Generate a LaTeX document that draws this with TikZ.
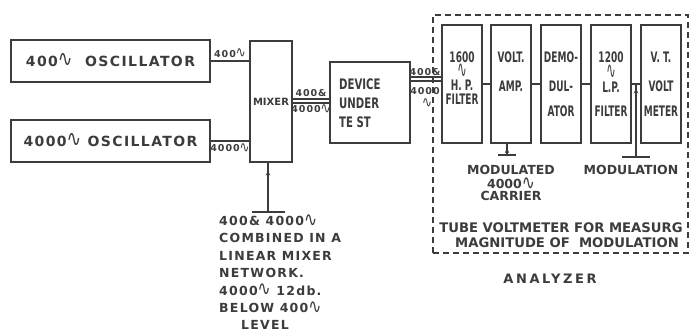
\documentclass[tikz,border=0pt]{standalone}
\usepackage{fontspec}
\usepackage{graphicx}
\setmainfont{DejaVu Sans}
\newfontfamily\cnd{DejaVu Sans}[FakeStretch=0.7]
\newfontfamily\cnn{DejaVu Sans}[FakeStretch=0.62]
\newfontfamily\wde{DejaVu Sans}[LetterSpace=10]
\newfontfamily\wder{DejaVu Sans}[LetterSpace=20]
\usetikzlibrary{calc,arrows.meta}
\definecolor{inkc}{HTML}{3C3C3C}
\newcommand\cyc{{\mdseries\raisebox{-0.05em}[0.6em][0pt]{\scalebox{1.25}[1.6]{∿}}}}
\begin{document}
\begin{tikzpicture}[x=1pt,y=-1pt,
  ink/.style={draw=inkc,line width=1.2pt},
  blk/.style={ink,rectangle,inner sep=0pt},
  txt/.style={text=inkc,inner sep=0pt},
  lbl/.style={txt,font=\wde\bfseries\fontsize{9.5}{10}\selectfont},
  boxl/.style={txt,anchor=base,font=\cnn\bfseries\fontsize{14.5}{14}\selectfont},
  modt/.style={txt,anchor=base,font=\bfseries\fontsize{12.5}{12}\selectfont},
  bigt/.style={txt,font=\wde\bfseries\fontsize{14}{15}\selectfont},
  tip/.style={ink,-{Stealth[length=5pt,width=4.5pt]}},
]
\fill[white] (0,0) rectangle (691,336);
\useasboundingbox (0,0) rectangle (691,336);

% oscillators and mixer
\node[blk,minimum width=199pt,minimum height=42pt,bigt] (osc1) at (110.5,61) {400\cyc\ \ OSCILLATOR};
\node[blk,minimum width=199pt,minimum height=42pt,bigt] (osc2) at (110.5,141) {4000\cyc\ OSCILLATOR};
\node[blk,minimum width=42pt,minimum height=121pt,txt,font=\bfseries\fontsize{10}{12}\selectfont] (mixer) at (271,101.5) {MIXER};
\node[blk,minimum width=80pt,minimum height=81pt] (dut) at (370,102.5) {};
\node[txt,align=left,anchor=west,font=\cnd\bfseries\fontsize{14.5}{19}\selectfont] (dutt) at (339,103) {DEVICE\\UNDER\\TE ST};

\draw[ink] (osc1.east) -- (osc1.east -| mixer.west) node[lbl,midway,above=3pt] (l1) {400\cyc};
\draw[ink] (osc2.east) -- (osc2.east -| mixer.west) node[lbl,midway,below=3pt] (l2) {4000\cyc};

\coordinate (m1) at ([yshift=2.5pt]mixer.east);
\coordinate (m2) at ([yshift=-1.5pt]mixer.east);
\draw[ink] (m1) -- (m1 -| dut.west) node[lbl,midway,above=2pt] (l3) {400\&};
\draw[ink] (m2) -- (m2 -| dut.west) node[lbl,midway,below=2pt] (l4) {4000\cyc};

% mixer input
\coordinate (mxb) at (268,212);
\coordinate (mxl) at (252,212);
\coordinate (mxr) at (285,212);
\draw[ink] (mxl) -- (mxr);
\draw[ink] (mxb) -- (mxb |- mixer.south);
\draw[tip] (mxb) -- ($(mxb)!0.84!(mxb |- mixer.south)$);
\node[txt,align=left,anchor=north west,font=\wde\bfseries\fontsize{12.5}{17.4}\selectfont] (note) at (219,216)
 {400\& 4000\cyc\\COMBINED IN A\\LINEAR MIXER\\NETWORK.\\4000\cyc\ 12db.\\BELOW 400\cyc\\\hspace*{22pt}LEVEL};

% analyzer
\node[draw=inkc,line width=1.2pt,dash pattern=on 6pt off 4pt,minimum width=255pt,minimum height=238pt,inner sep=0pt] (an) at (560.5,134) {};
\node[blk,minimum width=40pt,minimum height=118pt] (hp) at (462,84) {};
\node[blk,minimum width=40pt,minimum height=118pt] (amp) at (511,84) {};
\node[blk,minimum width=40pt,minimum height=118pt] (dem) at (561,84) {};
\node[blk,minimum width=40pt,minimum height=118pt] (lp) at (611,84) {};
\node[blk,minimum width=40pt,minimum height=118pt] (vt) at (661,84) {};
\draw[ink] (hp) -- (amp);
\draw[ink] (amp) -- (dem);
\draw[ink] (dem) -- (lp);
\draw[ink] (lp) -- (vt);

\node[boxl] (hp1) at (462,63) {1600};
\node[boxl] (hp2) at (462,77) {\cyc};
\node[boxl] (hp3) at (462,91) {H. P.};
\node[boxl] (hp4) at (462,105) {FILTER};
\node[boxl] (am1) at (511,63) {VOLT.};
\node[boxl] (am2) at (511,92) {AMP.};
\node[boxl] (de1) at (561,63) {DEMO-};
\node[boxl] (de2) at (561,92) {DUL-};
\node[boxl] (de3) at (561,117) {ATOR};
\node[boxl] (lp1) at (611,63) {1200};
\node[boxl] (lp2) at (611,78) {\cyc};
\node[boxl] (lp3) at (611,93) {L.P.};
\node[boxl] (lp4) at (611,117) {FILTER};
\node[boxl] (vt1) at (661,63) {V. T.};
\node[boxl] (vt2) at (661,92) {VOLT};
\node[boxl] (vt3) at (661,117) {METER};

% DUT to analyzer
\coordinate (d1) at (dut.east |- 0,77);
\coordinate (d2) at (dut.east |- 0,81);
\draw[ink] (d1) -- (d1 -| hp.west);
\draw[ink] (d2) -- (d2 -| hp.west);
\node[lbl] (l5) at (425,72) {400\&};
\node[lbl] (l6) at (425,91) {4000};
\node[lbl] (l7) at (427,104) {\cyc};

% carrier tap
\coordinate (cb) at (507,155);
\coordinate (cbl) at (498,155);
\coordinate (cbr) at (516,155);
\draw[ink] (cbl) -- (cbr);
\draw[ink] (cb) -- (cb |- amp.south);
\draw[tip] (cb) -- ($(cb)!0.6!(cb |- amp.south)$);
\node[modt] (ca1) at (511,175) {MODULATED};
\node[modt] (ca2) at (511,189) {4000\cyc};
\node[modt] (ca3) at (511,201) {CARRIER};

% modulation tap
\coordinate (mt) at ($(lp.east)!0.5!(vt.west)$);
\coordinate (mb) at (mt |- 0,157);
\coordinate (mbl) at (622,157);
\coordinate (mbr) at (650,157);
\draw[ink] (mbl) -- (mbr);
\draw[ink] (mb) -- (mt);
\draw[tip] (mb) -- ($(mb)!0.94!(mt)$);
\node[modt] (modl) at (631,175) {MODULATION};

\node[txt,align=center,font=\bfseries\fontsize{13.2}{15}\selectfont] (tube) at (561,235.5) {TUBE VOLTMETER FOR MEASURG\\\hspace*{12pt}MAGNITUDE OF\ \ MODULATION};
\node[txt,font=\wder\bfseries\fontsize{13}{14}\selectfont] (anl) at (550,279) {ANALYZER};
\end{tikzpicture}
\end{document}
